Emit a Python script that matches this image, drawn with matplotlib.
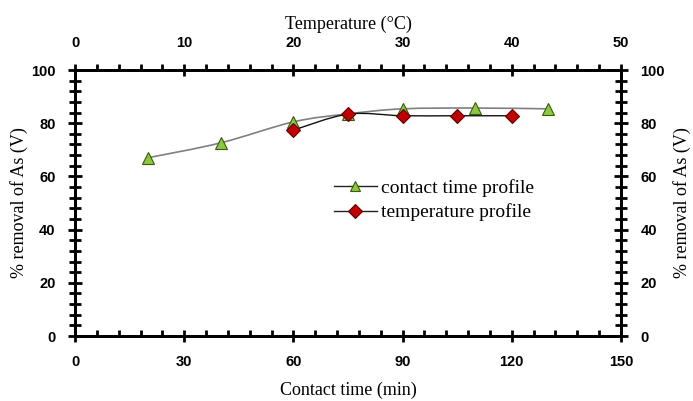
import numpy as np
import matplotlib
matplotlib.use('Agg')
import matplotlib.pyplot as plt
from matplotlib.path import Path
from matplotlib.patches import PathPatch
from matplotlib.ticker import MultipleLocator

# contact time profile (bottom axis, min)
time_min = [20, 40, 60, 75, 90, 110, 130]
time_removal = [67.0, 72.6, 80.5, 83.5, 85.4, 85.7, 85.4]
# temperature profile (top axis, deg C)
temp_c = [20, 25, 30, 35, 40]
temp_removal = [77.4, 83.4, 82.8, 82.8, 82.8]

serif = 'Liberation Serif'
sans = 'Liberation Sans'


def smooth_path(xs, ys):
    # excel-like smoothed line: cubic bezier through the points
    xs = np.asarray(xs, float)
    ys = np.asarray(ys, float)
    n = len(xs)
    verts = [(xs[0], ys[0])]
    codes = [Path.MOVETO]
    for i in range(n - 1):
        i0 = max(i - 1, 0)
        i3 = min(i + 2, n - 1)
        c1 = (xs[i] + (xs[i + 1] - xs[i0]) / 6, ys[i] + (ys[i + 1] - ys[i0]) / 6)
        c2 = (xs[i + 1] - (xs[i3] - xs[i]) / 6, ys[i + 1] - (ys[i3] - ys[i]) / 6)
        verts += [c1, c2, (xs[i + 1], ys[i + 1])]
        codes += [Path.CURVE4] * 3
    return Path(verts, codes)


fig = plt.figure(figsize=(6.93, 4.01), dpi=100)
ax = fig.add_axes([75 / 693, 1 - 336 / 401, (621 - 75) / 693, (336 - 70) / 401])
ax_top = ax.twiny()

ax.set_xlim(0, 150)
ax.set_ylim(0, 100)
ax_top.set_xlim(0, 50)

# green series on the time axis
ax.add_patch(PathPatch(smooth_path(time_min, time_removal), fill=False,
                       edgecolor='#808080', lw=1.2, zorder=3))
ax.plot(time_min, time_removal, ls='none', marker='^', ms=8, mfc='#8DC63F',
        mec='#3A5A10', mew=0.8, zorder=4)
# red series on the temperature axis
ax_top.add_patch(PathPatch(smooth_path(temp_c, temp_removal), fill=False,
                           edgecolor='#111111', lw=1.0, zorder=3))
ax_top.plot(temp_c, temp_removal, ls='none', marker='D', ms=7.5, mfc='#C00000',
            mec='#600000', mew=0.8, zorder=4)

# legend handles
h1, = ax.plot([], [], color='#222222', lw=1.0, marker='^', ms=7, mfc='#8DC63F',
              mec='#3A5A10', mew=0.8)
h2, = ax.plot([], [], color='#222222', lw=1.0, marker='D', ms=7, mfc='#C00000',
              mec='#600000', mew=0.8)
ax.legend([h1, h2], ['contact time profile', 'temperature profile'],
          loc='upper left', bbox_to_anchor=(0.46, 0.62), frameon=False,
          prop={'family': serif, 'size': 14}, handlelength=2.2,
          handletextpad=0.2, labelspacing=0.35, borderaxespad=0)

for a in (ax, ax_top):
    for s in a.spines.values():
        s.set_linewidth(2.0)

ax.xaxis.set_major_locator(MultipleLocator(30))
ax.xaxis.set_minor_locator(MultipleLocator(6))
ax.yaxis.set_major_locator(MultipleLocator(20))
ax.yaxis.set_minor_locator(MultipleLocator(4))
ax_top.xaxis.set_major_locator(MultipleLocator(10))
ax_top.xaxis.set_minor_locator(MultipleLocator(2))

ax.tick_params(axis='x', which='major', direction='inout', length=9, width=2,
               pad=9)
ax.tick_params(axis='x', which='minor', direction='in', length=4, width=2)
ax.tick_params(axis='y', which='major', direction='inout', length=10, width=2,
               pad=9)
ax.tick_params(axis='y', which='minor', direction='inout', length=8, width=2)
ax_top.tick_params(axis='x', which='major', direction='inout', length=9,
                   width=2, pad=10)
ax_top.tick_params(axis='x', which='minor', direction='out', length=4, width=2)

ax_r = ax.secondary_yaxis('right')
ax_r.yaxis.set_major_locator(MultipleLocator(20))
ax_r.yaxis.set_minor_locator(MultipleLocator(4))
ax_r.spines['right'].set_linewidth(2.0)
ax_r.tick_params(axis='y', which='major', direction='inout', length=10,
                 width=2, pad=9)
ax_r.tick_params(axis='y', which='minor', direction='inout', length=8, width=2)

for a in (ax, ax_top, ax_r):
    for lab in a.get_xticklabels() + a.get_yticklabels():
        lab.set_fontfamily(sans)
        lab.set_fontweight('bold')
        lab.set_fontsize(10.5)

ax.set_xlabel('Contact time (min)', family=serif, size=13, labelpad=9)
ax_top.set_xlabel('Temperature (°C)', family=serif, size=13, labelpad=5)
ax.set_ylabel('% removal of As (V)', family=serif, size=13, labelpad=2)
ax_r.set_ylabel('% removal of As (V)', family=serif, size=13, labelpad=6)

fig.savefig('out.png', dpi=100)
